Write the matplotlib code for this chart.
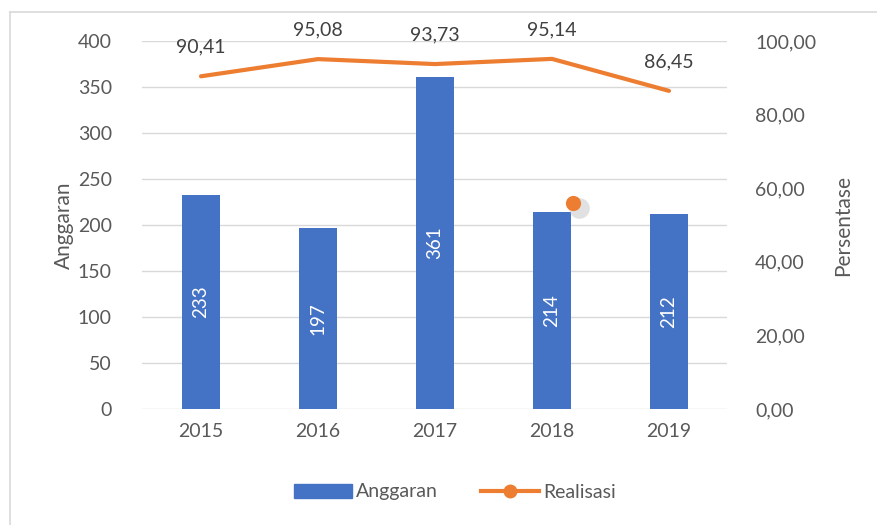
import matplotlib.pyplot as plt
from matplotlib.lines import Line2D
from matplotlib.patches import Patch

# data
years = ['2015', '2016', '2017', '2018', '2019']
anggaran = [233, 197, 361, 214, 212]
realisasi = [90.41, 95.08, 93.73, 95.14, 86.45]
realisasi_labels = ['90,41', '95,08', '93,73', '95,14', '86,45']
# stray marker seen near 2018 in the original
stray_x = [3.18]
stray_y = [56.0]

blue = '#4472C4'
orange = '#ED7D31'
txt = '#595959'
grid = '#D9D9D9'

plt.rcParams['font.family'] = ['Lato', 'DejaVu Sans']

fig = plt.figure(figsize=(8.78, 5.25), dpi=100)
ax = fig.add_axes([142.5/878, 1-409/525, 585/878, 368/525])
ax2 = ax.twinx()

x = list(range(len(years)))
bars = ax.bar(x, anggaran, width=0.33, color=blue, zorder=2)
for xi, v in zip(x, anggaran):
    ax.text(xi, v/2, str(v), rotation=90, ha='center', va='center',
            color='white', fontsize=13.5)

ax.set_xlim(-0.5, 4.5)
ax.set_ylim(0, 400)
ax.set_yticks(range(0, 401, 50))
ax.set_xticks(x)
ax.set_xticklabels(years)
ax.grid(axis='y', color=grid, linewidth=1, zorder=0)
ax.set_axisbelow(True)
ax.set_ylabel('Anggaran', color=txt, fontsize=15, labelpad=3)

ax2.plot(x, realisasi, color=orange, linewidth=3, solid_capstyle='round', zorder=3)
for xi, v, lab in zip(x, realisasi, realisasi_labels):
    ax2.annotate(lab, (xi, v), xytext=(0, 21), textcoords='offset points',
                 ha='center', va='center', color='#404040', fontsize=14)
ax2.scatter([s + 0.05 for s in stray_x], [s - 1.5 for s in stray_y], s=220,
            color='#bdbdbd', alpha=0.45, linewidths=0, zorder=3)
ax2.scatter(stray_x, stray_y, s=120, color=orange, linewidths=0, zorder=4)
ax2.set_ylim(0, 100)
ax2.set_yticks(range(0, 101, 20))
ax2.set_yticklabels(['%d,00' % t for t in range(0, 101, 20)])
ax2.set_ylabel('Persentase', color=txt, fontsize=15, labelpad=12)

for a in (ax, ax2):
    for s in a.spines.values():
        s.set_visible(False)
    a.tick_params(length=0, colors=txt, labelsize=14)
ax.tick_params(axis='y', pad=22)
ax.tick_params(axis='x', pad=10)
ax2.tick_params(axis='y', pad=20)

handles = [Patch(color=blue),
           Line2D([0], [0], color=orange, linewidth=3, marker='o', markersize=9)]
fig.legend(handles, ['Anggaran', 'Realisasi'], loc='center',
           bbox_to_anchor=(455/878, 1-492/525), ncol=2, frameon=False,
           fontsize=14, labelcolor=txt, handlelength=3.0, columnspacing=2.2,
           handletextpad=0.2)

# outer chart border (cut off at right and bottom)
fig.add_artist(Line2D([10/878, 1], [1-12/525, 1-12/525], color=grid, linewidth=1.2))
fig.add_artist(Line2D([10/878, 10/878], [0, 1-12/525], color=grid, linewidth=1.2))

plt.savefig('out.png', dpi=100)
